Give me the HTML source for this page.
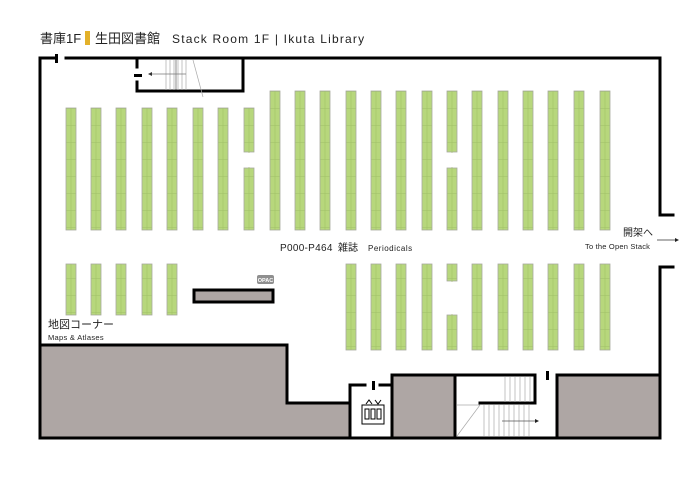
<!DOCTYPE html>
<html><head><meta charset="utf-8"><style>
html,body{margin:0;padding:0;background:#fff;width:700px;height:495px;overflow:hidden}
svg{display:block}
text{font-family:"Liberation Sans","Noto Sans CJK JP",sans-serif}
</style></head><body>
<svg width="700" height="495" viewBox="0 0 700 495" xmlns="http://www.w3.org/2000/svg">
<defs>
<pattern id="sh" width="10" height="17" patternUnits="userSpaceOnUse" x="0" y="91">
<rect width="10" height="17" fill="#b7d77c"/>
<line x1="0" y1="0.5" x2="10" y2="0.5" stroke="#a8c870" stroke-width="0.8"/>
</pattern>
</defs>
<!-- title -->
<text x="40" y="43" font-size="13" fill="#222">書庫1F</text>
<rect x="85" y="31" width="5" height="14" fill="#e3b12a"/>
<text x="95" y="43" font-size="13" fill="#222">生田図書館</text>
<text x="172" y="43" font-size="12" fill="#222" letter-spacing="1.2">Stack Room 1F  |  Ikuta Library</text>

<!-- gray regions -->
<g fill="#aea6a4" stroke="#000" stroke-width="3">
<path d="M40,345 H287 V403 H350 V438 H40 Z"/>
<rect x="392" y="375" width="63" height="63"/>
<rect x="557" y="375" width="103" height="63"/>
</g>

<!-- walls -->
<g stroke="#000" stroke-width="3" fill="none" stroke-linecap="square">
<path d="M56,58 H40 V438 H660 V375"/>
<path d="M66,58 H660 V215 H673"/>
<path d="M673,267 H660 V375"/>
<path d="M243,58 V91 H137 V82"/>
<path d="M137,58 V67"/>
<path d="M350,438 V385 H365"/>
<path d="M380,385 H392"/>
<path d="M455,375 V438"/>
<path d="M392,375 H535"/>
<path d="M535,375 V403 H480"/>
</g>
<rect x="55" y="54" width="3" height="9" fill="#000"/>
<rect x="134" y="74" width="8" height="3" fill="#000"/>
<rect x="372" y="381" width="3" height="9" fill="#000"/>
<rect x="546" y="371" width="3" height="9" fill="#000"/>

<!-- stairs top -->
<g stroke="#aaa" stroke-width="0.7">
<line x1="166" y1="60" x2="166" y2="90"/><line x1="170" y1="60" x2="170" y2="90"/><line x1="174" y1="60" x2="174" y2="90"/>
<line x1="178" y1="60" x2="178" y2="90"/><line x1="182" y1="60" x2="182" y2="90"/><line x1="186" y1="60" x2="186" y2="90"/>
<line x1="193" y1="60" x2="203" y2="97"/>
</g>
<line x1="176" y1="60" x2="176" y2="90" stroke="#555" stroke-width="0.7"/>
<line x1="150" y1="74" x2="186" y2="74" stroke="#777" stroke-width="0.8"/>
<path d="M148,74 l4,-2 v4z" fill="#333"/>

<!-- stairs bottom -->
<g stroke="#aaa" stroke-width="0.7">
<line x1="505" y1="377" x2="505" y2="402"/><line x1="510" y1="377" x2="510" y2="402"/><line x1="515" y1="377" x2="515" y2="402"/><line x1="520" y1="377" x2="520" y2="402"/><line x1="525" y1="377" x2="525" y2="402"/><line x1="530" y1="377" x2="530" y2="402"/>
<line x1="484" y1="405" x2="484" y2="436"/><line x1="489" y1="405" x2="489" y2="436"/><line x1="494" y1="405" x2="494" y2="436"/><line x1="499" y1="405" x2="499" y2="436"/><line x1="504" y1="405" x2="504" y2="436"/><line x1="509" y1="405" x2="509" y2="436"/><line x1="514" y1="405" x2="514" y2="436"/><line x1="519" y1="405" x2="519" y2="436"/><line x1="524" y1="405" x2="524" y2="436"/><line x1="529" y1="405" x2="529" y2="436"/>
<line x1="457" y1="405" x2="480" y2="405"/>
<line x1="457" y1="436" x2="480" y2="405"/>
</g>
<line x1="502" y1="421" x2="536" y2="421" stroke="#555" stroke-width="0.8"/>
<path d="M539,421 l-4,-2 v4z" fill="#222"/>

<!-- elevator icon -->
<g stroke="#000" stroke-width="1" fill="none">
<rect x="362" y="405" width="22" height="19"/>
<path d="M366,404 l3,-4 l3,4 M375,400 l3,4 l3,-4"/>
<rect x="365" y="409" width="4" height="10"/><rect x="371" y="409" width="4" height="10"/><rect x="377" y="409" width="4" height="10"/>
</g>

<!-- shelves -->
<g fill="url(#sh)" stroke="#a7aa9f" stroke-width="0.8">
<rect x="66" y="108" width="10" height="122"/><rect x="91" y="108" width="10" height="122"/><rect x="116" y="108" width="10" height="122"/><rect x="142" y="108" width="10" height="122"/><rect x="167" y="108" width="10" height="122"/><rect x="193" y="108" width="10" height="122"/><rect x="218" y="108" width="10" height="122"/>
<rect x="244" y="108" width="10" height="44"/><rect x="244" y="168" width="10" height="62"/>
<rect x="270" y="91" width="10" height="139"/><rect x="295" y="91" width="10" height="139"/><rect x="320" y="91" width="10" height="139"/><rect x="346" y="91" width="10" height="139"/><rect x="371" y="91" width="10" height="139"/><rect x="396" y="91" width="10" height="139"/><rect x="422" y="91" width="10" height="139"/>
<rect x="447" y="91" width="10" height="61"/><rect x="447" y="168" width="10" height="62"/>
<rect x="472" y="91" width="10" height="139"/><rect x="498" y="91" width="10" height="139"/><rect x="523" y="91" width="10" height="139"/><rect x="548" y="91" width="10" height="139"/><rect x="574" y="91" width="10" height="139"/><rect x="600" y="91" width="10" height="139"/>
<rect x="66" y="264" width="10" height="51"/><rect x="91" y="264" width="10" height="51"/><rect x="116" y="264" width="10" height="51"/><rect x="142" y="264" width="10" height="51"/><rect x="167" y="264" width="10" height="51"/>
<rect x="346" y="264" width="10" height="86"/><rect x="371" y="264" width="10" height="86"/><rect x="396" y="264" width="10" height="86"/><rect x="422" y="264" width="10" height="86"/>
<rect x="447" y="264" width="10" height="17"/><rect x="447" y="315" width="10" height="35"/>
<rect x="472" y="264" width="10" height="86"/><rect x="498" y="264" width="10" height="86"/><rect x="523" y="264" width="10" height="86"/><rect x="548" y="264" width="10" height="86"/><rect x="574" y="264" width="10" height="86"/><rect x="600" y="264" width="10" height="86"/>
</g>
<g stroke="#a3c466" stroke-width="0.6">
<path d="M71,108V230M96,108V230M121,108V230M147,108V230M172,108V230M198,108V230M223,108V230M249,108V230M275,91V230M300,91V230M325,91V230M351,91V230M376,91V230M401,91V230M427,91V230M452,91V230M477,91V230M503,91V230M528,91V230M553,91V230M579,91V230M605,91V230"/>
<path d="M71,264V315M96,264V315M121,264V315M147,264V315M172,264V315M351,264V350M376,264V350M401,264V350M427,264V350M452,264V350M477,264V350M503,264V350M528,264V350M553,264V350M579,264V350M605,264V350"/>
</g>
<rect x="244" y="153" width="10" height="14" fill="#fff"/>
<rect x="447" y="153" width="10" height="14" fill="#fff"/>
<rect x="447" y="282" width="10" height="32" fill="#fff"/>

<!-- OPAC -->
<rect x="194" y="290" width="79" height="12" fill="#aea6a4" stroke="#000" stroke-width="3"/>
<rect x="257" y="275" width="17" height="9" rx="2" fill="#8f8f8f"/>
<text x="265.5" y="282" font-size="5.5" fill="#fff" text-anchor="middle" font-weight="bold">OPAC</text>

<!-- labels -->
<text x="280" y="251" font-size="10" fill="#222" letter-spacing="0.3">P000-P464</text>
<text x="338" y="251" font-size="10" fill="#222">雑誌</text>
<text x="368" y="251" font-size="8" fill="#222" letter-spacing="0.5">Periodicals</text>
<text x="623" y="236" font-size="10" fill="#222">開架へ</text>
<text x="585" y="249" font-size="7.5" fill="#222" letter-spacing="0.2">To the Open Stack</text>
<line x1="657" y1="240" x2="676" y2="240" stroke="#333" stroke-width="0.8"/>
<path d="M679,240 l-4,-2 v4z" fill="#222"/>
<text x="48" y="328" font-size="11" fill="#222">地図コーナー</text>
<text x="48" y="340" font-size="7.5" fill="#222" letter-spacing="0.3">Maps &amp; Atlases</text>
</svg>
</body></html>
